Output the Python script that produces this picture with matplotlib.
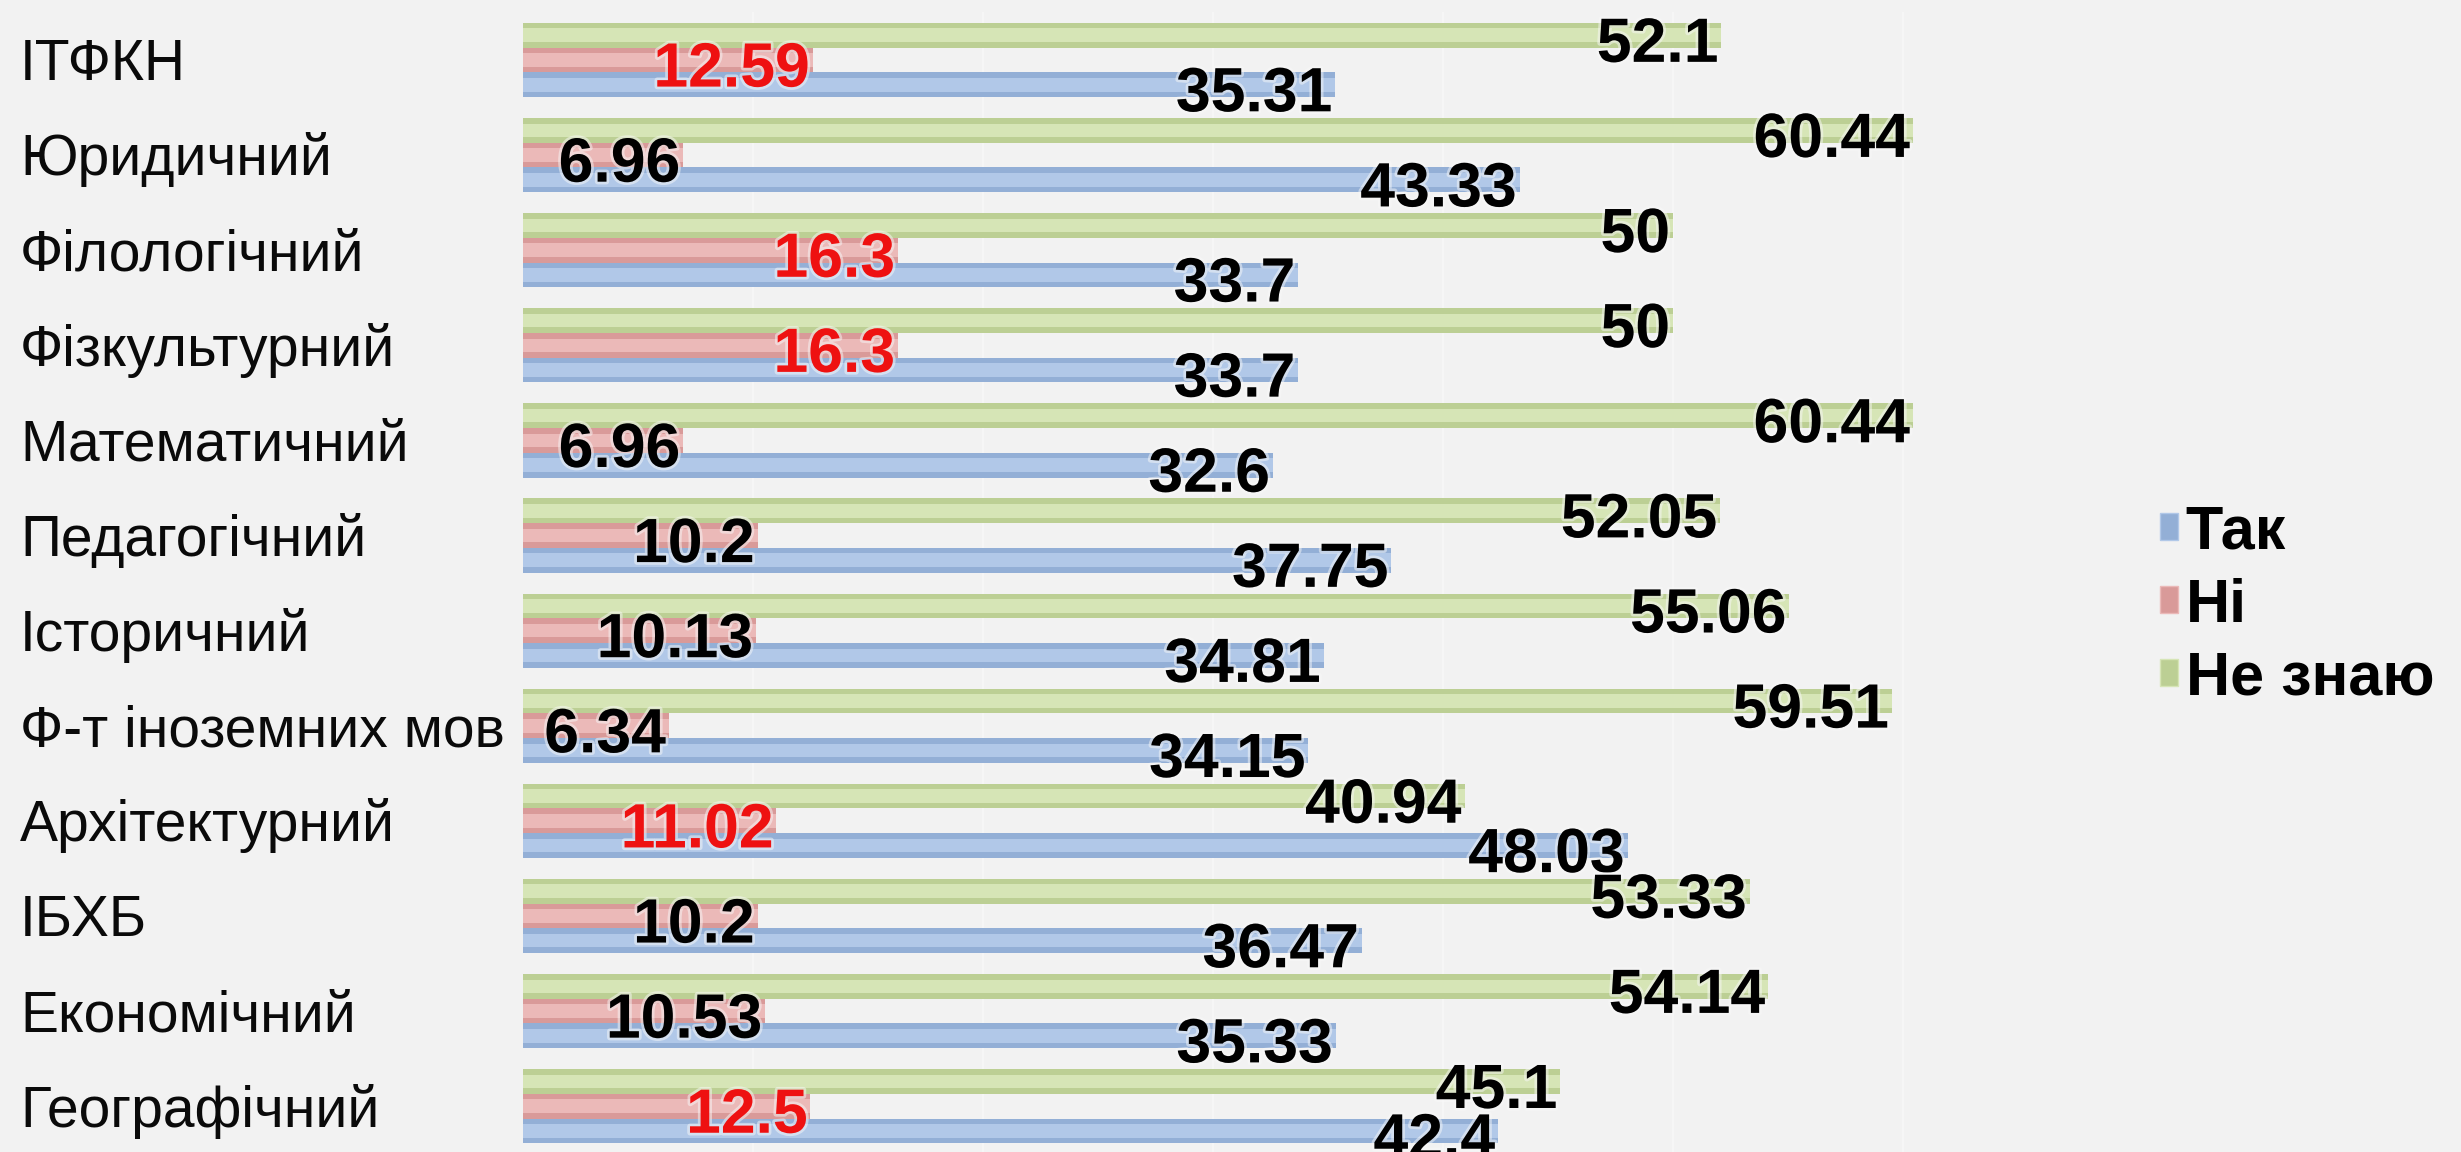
import numpy as np
import matplotlib
matplotlib.use('Agg')
import matplotlib.pyplot as plt
import matplotlib.transforms as mtransforms
import matplotlib.patheffects as pe
from matplotlib.patches import Patch

plt.rcParams['font.family'] = ['Liberation Sans', 'DejaVu Sans']

# data
categories = ['ІТФКН', 'Юридичний', 'Філологічний', 'Фізкультурний', 'Математичний',
              'Педагогічний', 'Історичний', 'Ф-т іноземних мов', 'Архітектурний',
              'ІБХБ', 'Економічний', 'Географічний']
tak = [35.31, 43.33, 33.7, 33.7, 32.6, 37.75, 34.81, 34.15, 48.03, 36.47, 35.33, 42.4]
ni = [12.59, 6.96, 16.3, 16.3, 6.96, 10.2, 10.13, 6.34, 11.02, 10.2, 10.53, 12.5]
ne_znayu = [52.1, 60.44, 50, 50, 60.44, 52.05, 55.06, 59.51, 40.94, 53.33, 54.14, 45.1]
series_names = ['Так', 'Ні', 'Не знаю']
# which "Ні" labels are printed red in the original
ni_red = [True, False, True, True, False, False, False, False, True, False, False, True]

bg = '#f2f2f2'
# (edge/dark, body/light) for each series
colors = {
    'Так': ('#93afd6', '#b1c8e8'),
    'Ні': ('#d99a99', '#ebb9b8'),
    'Не знаю': ('#bccf94', '#d6e5b6'),
}

fig = plt.figure(figsize=(24.61, 11.52), dpi=100, facecolor=bg)
ax = fig.add_axes([0.2125, -0.0015, 0.6542, 0.9907])
ax.set_facecolor(bg)

y = np.arange(len(categories))
h = 0.26
offsets = {'Не знаю': -h, 'Ні': 0.0, 'Так': h}
values = {'Так': tak, 'Ні': ni, 'Не знаю': ne_znayu}

# very faint vertical gridlines
for gx in range(10, 70, 10):
    ax.axvline(gx, color='#f6f6f6', lw=1.5, zorder=0)

for name in series_names:
    dark, light = colors[name]
    yy = y + offsets[name]
    ax.barh(yy, values[name], height=h, color=dark, zorder=2)
    ax.barh(yy, values[name], height=h * 0.55, color=light, zorder=3)

# value labels, right aligned at bar end
fs = 45
cap = 0.716 * fs
glow = [pe.withStroke(linewidth=4, foreground='#f8f8f8', alpha=0.5)]
for name in series_names:
    for i, v in enumerate(values[name]):
        c = 'black'
        if name == 'Ні' and ni_red[i]:
            c = '#ee1111'
        t = ax.annotate(f'{v:g}', xy=(v, y[i] + offsets[name]), xytext=(-2, -cap / 2 - 3),
                        textcoords='offset points', ha='right', va='baseline',
                        fontsize=fs, fontweight='bold', color=c, zorder=5)
        t.set_path_effects(glow)

# category labels, left aligned at the figure edge
trans = mtransforms.blended_transform_factory(fig.transFigure, ax.transData)
for i, cat in enumerate(categories):
    ax.annotate(cat, xy=(20 / 2461, y[i]), xycoords=trans, xytext=(0, -0.716 * 41 / 2),
                textcoords='offset points', ha='left', va='baseline', fontsize=41,
                color='#0a0a0a', annotation_clip=False)

ax.set_xlim(0, 70)
ax.set_ylim(len(categories) - 0.5, -0.5)
ax.set_xticks([])
ax.set_yticks([])
for s in ax.spines.values():
    s.set_visible(False)

handles = [Patch(facecolor=colors[n][0], edgecolor=colors[n][1], label=n) for n in series_names]
fig.legend(handles=handles, loc='center left', bbox_to_anchor=(2160 / 2461, 1 - 606 / 1152),
           frameon=False, prop={'size': 44, 'weight': 'bold'}, handlelength=0.3,
           handleheight=0.3, handletextpad=0.12, labelspacing=0.26, borderpad=0,
           borderaxespad=0)

fig.savefig('out.png', dpi=100, facecolor=bg)
